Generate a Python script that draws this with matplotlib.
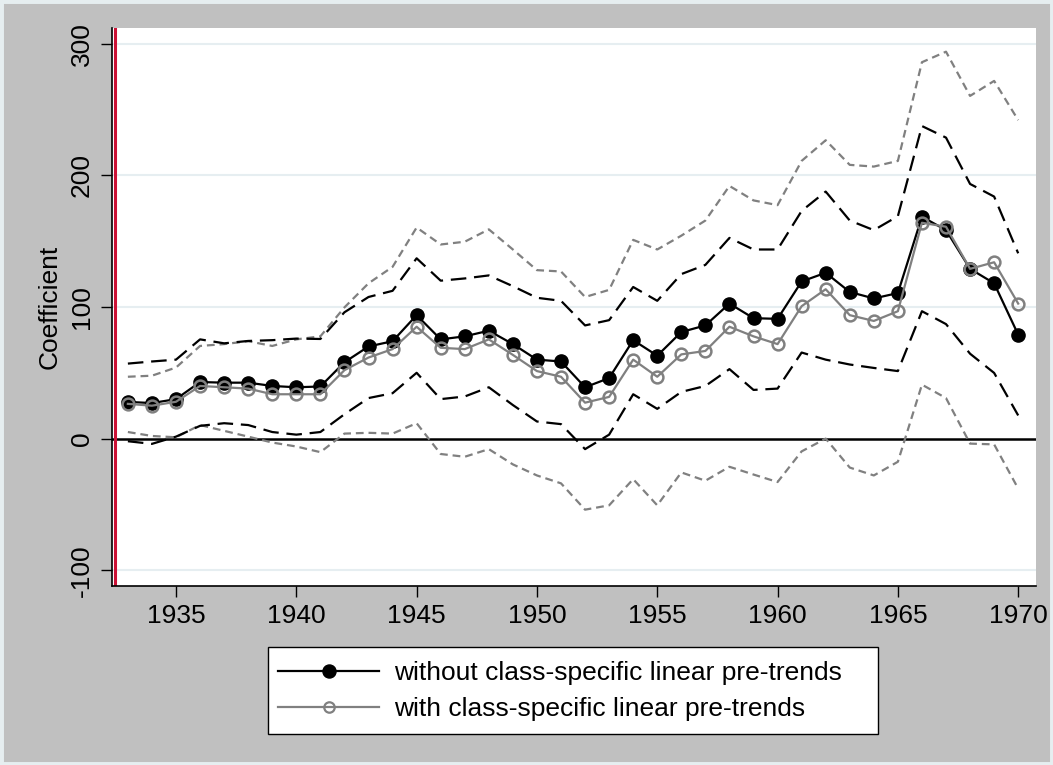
import numpy as np
import matplotlib
matplotlib.use('Agg')
import matplotlib.pyplot as plt
from matplotlib.lines import Line2D
from matplotlib.patches import Rectangle

plt.rcParams['font.family'] = ['Liberation Sans', 'DejaVu Sans']
plt.rcParams['axes.unicode_minus'] = False

years = list(range(1933, 1971))

# without class-specific linear pre-trends
coef_a = [27.9, 27, 30, 43, 42.5, 42.5, 40, 39, 39.6, 58, 70, 74,
          93.8, 75.4, 77.7, 82, 71.8, 60, 58.6, 39, 46, 74.8, 63, 81,
          86, 102.6, 91.5, 91, 119.4, 126, 111.4, 106.5, 110.6, 168.6, 158.4, 129, 118, 79]
hi_a = [57, 58.6, 60, 75.4, 72.4, 74.2, 74.8, 76, 75.7, 96, 107.6, 112.3,
        137, 120, 121.7, 124, 115.8, 107, 104.7, 86, 90, 115.2, 104.7, 125,
        132, 152.5, 143.7, 143.7, 173, 187.7, 165.7, 158.4, 169, 237.5, 228.7, 193.5, 183.9, 140.8]
lo_a = [-2, -4, 1.5, 9.7, 11.7, 10.3, 5, 3, 5, 18.5, 30.8, 34.5,
        50, 30, 32, 39, 25.5, 13, 11, -8, 3, 33.7, 22.6, 35.5,
        40, 52.8, 37, 38, 65.4, 60, 56.3, 53.7, 51.3, 96.8, 87, 64.5, 49.9, 17.6]

# with class-specific linear pre-trends
coef_b = [26.4, 25, 28, 40, 39, 38, 33.7, 33.7, 33.7, 52, 61.6, 68,
          85, 69, 68, 75.4, 63.6, 51.3, 47, 27.3, 31.7, 60, 47, 64,
          66.6, 85, 77.7, 71.8, 100.6, 113.5, 93.8, 89.4, 96.8, 164, 161, 129, 134, 102.6]
hi_b = [47, 47.8, 54, 70.4, 71.8, 74, 70.4, 75.4, 77.7, 99.7, 118, 130.5,
        160.4, 147.5, 149.6, 159, 143.7, 128, 127, 107.6, 113, 151, 143.7, 154.2,
        165.7, 192, 181, 177.4, 211, 226.7, 208, 206.7, 211, 286, 294, 260.4, 271.8, 242]
lo_b = [5, 2, 1, 10.3, 5.9, 1.5, -3, -6, -10.3, 3.8, 4.4, 3.8,
        11.7, -11.7, -13.8, -8, -19.6, -28, -34, -54, -50.7, -30.8, -50.7, -25.7,
        -32, -21.4, -27.3, -33, -9.7, 0, -22, -28, -17.6, 41, 30.8, -3.8, -4.4, -38]

labels = ['without class-specific linear pre-trends',
          'with class-specific linear pre-trends']

W, H = 1053, 765
fig = plt.figure(figsize=(W / 100, H / 100), dpi=100, facecolor='#c0c0c0')
fig.patches.append(Rectangle((0, 0), 1, 1, transform=fig.transFigure,
                             fill=False, edgecolor='#e6eef0', linewidth=5))
ax = fig.add_axes([112 / W, 1 - 586 / H, (1036 - 112) / W, (586 - 28) / H])
ax.set_facecolor('white')

for yv in [-100, 100, 200, 300]:
    ax.axhline(yv, color='#e6eef1', lw=1.5, zorder=0)
ax.axhline(0, color='black', lw=1.8, zorder=1)
ax.axvline(1932.48, color='#cc1236', lw=2.2, zorder=1)

ax.plot(years, hi_b, color='#808080', lw=1.6, dashes=(3.5, 2.2), zorder=2)
ax.plot(years, lo_b, color='#808080', lw=1.6, dashes=(3.5, 2.2), zorder=2)
ax.plot(years, hi_a, color='black', lw=1.6, dashes=(7, 3.5), zorder=3)
ax.plot(years, lo_a, color='black', lw=1.6, dashes=(7, 3.5), zorder=3)
ax.plot(years, coef_a, color='black', lw=1.6, marker='o', ms=9.5,
        mfc='black', mec='black', zorder=4)
ax.plot(years, coef_b, color='#808080', lw=1.6, marker='o', ms=8.5,
        mfc='none', mec='#808080', mew=1.8, zorder=5)

ax.set_xlim(1932.34, 1970.74)
ax.set_ylim(-112, 312)
ax.set_xticks([1935, 1940, 1945, 1950, 1955, 1960, 1965, 1970])
ax.set_yticks([-100, 0, 100, 200, 300])
ax.tick_params(axis='both', labelsize=19, length=8, width=1, color='black', pad=5)
for lab in ax.get_yticklabels():
    lab.set_rotation(90)
    lab.set_va('center')
ax.set_ylabel('Coefficient', fontsize=19, labelpad=6)

for s in ['top', 'right']:
    ax.spines[s].set_visible(False)
ax.spines['left'].set_linewidth(1.2)
ax.spines['bottom'].set_linewidth(1.2)

# legend box (drawn by hand: Stata leaves empty room on the right)
fig.patches.append(Rectangle((268 / W, 1 - 734 / H), (878 - 268) / W, (734 - 647) / H,
                             transform=fig.transFigure, facecolor='white',
                             edgecolor='black', linewidth=1.0, zorder=1))
handles = [Line2D([], [], color='black', lw=1.6, marker='o', ms=9.4, mfc='black', mec='black'),
           Line2D([], [], color='#808080', lw=1.6, marker='o', ms=7.5, mfc='none',
                  mec='#808080', mew=1.6)]
leg = fig.legend(handles, labels, loc='center left', bbox_to_anchor=(278 / W, 1 - 691 / H),
                 fontsize=19, handlelength=3.83, frameon=False, borderpad=0,
                 borderaxespad=0, labelspacing=0.44, handletextpad=0.57)
leg.set_zorder(2)

fig.savefig('out.png', dpi=100, facecolor=fig.get_facecolor())
